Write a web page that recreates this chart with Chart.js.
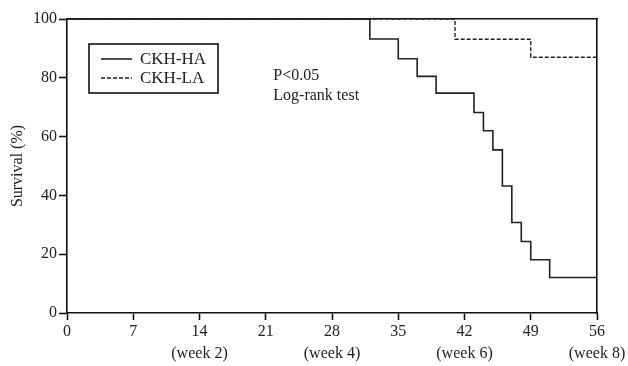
<!DOCTYPE html>
<html lang="en">
<head>
<meta charset="UTF-8">
<title>Survival curves</title>
<script src="https://cdn.jsdelivr.net/npm/chart.js"></script>
<style>
  html, body { margin: 0; padding: 0; background: #fff; }
  #wrap { width: 628px; height: 366px; }
</style>
</head>
<body>
<div id="wrap"><canvas id="myChart" width="628" height="366"></canvas></div>
<script>
// Kaplan-Meier steps: day of event and survival (%) after it
var haDays = [0, 32, 35, 37, 39, 43, 44, 45, 46, 47, 48, 49, 51, 56];
var haSurv = [100, 93.2, 86.5, 80.5, 74.8, 68.2, 62.0, 55.5, 43.2, 30.8, 24.3, 18.1, 12.1, 12.1];
var laDays = [0, 41, 49, 56];
var laSurv = [100, 93.1, 87.0, 87.0];

var xTicks = [0, 7, 14, 21, 28, 35, 42, 49, 56];
var weekLabels = { 14: '(week 2)', 28: '(week 4)', 42: '(week 6)', 56: '(week 8)' };
var yTicks = [0, 20, 40, 60, 80, 100];
var noteLines = ['P<0.05', 'Log-rank test'];

var FONT = '"Liberation Serif", "Times New Roman", serif';
var INK = '#222';

function toPoints(xs, ys) {
    var pts = [];
    for (var i = 0; i < xs.length; i++) pts.push({ x: xs[i], y: ys[i] });
    return pts;
}

// legend box + note text drawn inside the plot
var innerText = {
    id: 'innerText',
    afterDatasetsDraw: function (chart) {
        var ctx = chart.ctx, a = chart.chartArea;
        var xs = chart.scales.x, ys = chart.scales.y;
        ctx.save();
        // legend box
        var bx = a.left + 22, by = a.top + 25, bw = 129, bh = 49;
        ctx.strokeStyle = '#111';
        ctx.lineWidth = 1.6;
        ctx.strokeRect(bx, by, bw, bh);
        ctx.font = '17px ' + FONT;
        ctx.textBaseline = 'middle';
        ctx.fillStyle = INK;
        chart.data.datasets.forEach(function (ds, i) {
            var cy = by + 15 + i * 19;
            ctx.beginPath();
            ctx.setLineDash(ds.borderDash || []);
            ctx.lineWidth = ds.borderWidth;
            ctx.strokeStyle = ds.borderColor;
            ctx.moveTo(bx + 12, cy);
            ctx.lineTo(bx + 43, cy);
            ctx.stroke();
            ctx.setLineDash([]);
            ctx.fillText(ds.label, bx + 51, cy + 1);
        });
        // note
        ctx.font = '16px ' + FONT;
        ctx.fillText(noteLines[0], xs.getPixelForValue(21.8), ys.getPixelForValue(80.6));
        ctx.fillText(noteLines[1], xs.getPixelForValue(21.8), ys.getPixelForValue(73.8));
        ctx.restore();
    }
};

var frameAxis = {
    ticks: { display: false },
    grid: { display: true, drawOnChartArea: false, drawTicks: false },
    border: { display: true, color: '#111', width: 1.6 }
};

var ctx = document.getElementById('myChart').getContext('2d');
var myChart = new Chart(ctx, {
    type: 'line',
    data: {
        datasets: [{
            label: 'CKH-HA',
            data: toPoints(haDays, haSurv),
            borderColor: '#222',
            borderWidth: 1.6,
            stepped: 'before',
            pointRadius: 0,
            fill: false,
            clip: 4
        }, {
            label: 'CKH-LA',
            data: toPoints(laDays, laSurv),
            borderColor: '#222',
            borderWidth: 1.4,
            borderDash: [4, 2],
            stepped: 'before',
            pointRadius: 0,
            fill: false,
            clip: 4
        }]
    },
    options: {
        responsive: false,
        animation: false,
        layout: { padding: 0 },
        plugins: { legend: { display: false }, tooltip: { enabled: false } },
        scales: {
            x: {
                type: 'linear',
                position: 'bottom',
                min: 0, max: 56,
                afterBuildTicks: function (s) { s.ticks = xTicks.map(function (v) { return { value: v }; }); },
                afterFit: function (s) { s.height = 53; },
                ticks: {
                    color: INK,
                    font: { family: FONT, size: 16, lineHeight: 1.35 },
                    padding: 1,
                    maxRotation: 0,
                    autoSkip: false,
                    callback: function (v) {
                        return weekLabels[v] ? [String(v), weekLabels[v]] : String(v);
                    }
                },
                grid: { drawOnChartArea: false, drawTicks: true, tickLength: 7, tickWidth: 1.6, tickColor: '#111' },
                border: { display: true, color: '#111', width: 1.6 }
            },
            y: {
                type: 'linear',
                position: 'left',
                min: 0, max: 100,
                afterBuildTicks: function (s) { s.ticks = yTicks.map(function (v) { return { value: v }; }); },
                afterFit: function (s) { s.width = 67; },
                title: {
                    display: true,
                    text: 'Survival (%)',
                    color: INK,
                    font: { family: FONT, size: 16 },
                    padding: { top: 8, bottom: 0 }
                },
                ticks: { color: INK, font: { family: FONT, size: 16 }, padding: 2 },
                grid: { drawOnChartArea: false, drawTicks: true, tickLength: 8, tickWidth: 1.6, tickColor: '#111' },
                border: { display: true, color: '#111', width: 1.6 }
            },
            x2: Object.assign({ type: 'linear', position: 'top', min: 0, max: 56,
                afterFit: function (s) { s.height = 19; } }, frameAxis),
            y2: Object.assign({ type: 'linear', position: 'right', min: 0, max: 100,
                afterFit: function (s) { s.width = 31; } }, frameAxis)
        }
    },
    plugins: [innerText]
});
</script>
</body>
</html>
